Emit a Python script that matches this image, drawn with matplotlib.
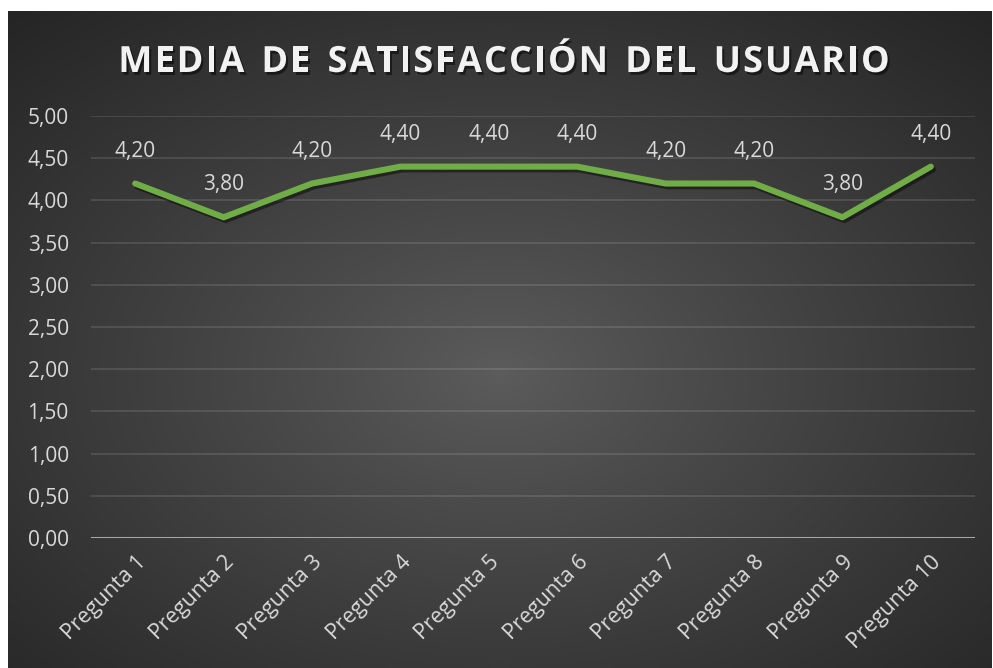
import numpy as np
import matplotlib
matplotlib.use("Agg")
import matplotlib.pyplot as plt
import matplotlib.patheffects as pe

categories = ["Pregunta 1", "Pregunta 2", "Pregunta 3", "Pregunta 4", "Pregunta 5",
              "Pregunta 6", "Pregunta 7", "Pregunta 8", "Pregunta 9", "Pregunta 10"]
values = [4.20, 3.80, 4.20, 4.40, 4.40, 4.40, 4.20, 4.20, 3.80, 4.40]
y_ticks = [0.0, 0.5, 1.0, 1.5, 2.0, 2.5, 3.0, 3.5, 4.0, 4.5, 5.0]
title = "MEDIA DE SATISFACCIÓN DEL USUARIO"

W, H = 993, 668
DPI = 100
FONT = "Open Sans"
TXT = "#d9d9d9"
GREEN = "#70ad47"


def fmt(v):
    return f"{v:.2f}".replace(".", ",")


fig = plt.figure(figsize=(W / DPI, H / DPI), dpi=DPI)
fig.patch.set_facecolor("white")

# Chart area with a radial gray gradient
bg = fig.add_axes([8 / W, 0, 984 / W, 657 / H])
bg.set_axis_off()
ny, nx = 330, 492
yy, xx = np.mgrid[0:ny, 0:nx]
dx = (xx / (nx - 1) - 0.5)
dy = (yy / (ny - 1) - 0.55)
r = np.sqrt(dx ** 2 + dy ** 2) / np.sqrt(0.5 ** 2 + 0.55 ** 2)
r = np.clip(r, 0, 1)
c_in, c_out = 0x5c / 255, 0x25 / 255
g = c_in + (c_out - c_in) * r ** 0.9
img = np.dstack([g, g, g])
bg.imshow(img, aspect="auto", extent=[0, 1, 0, 1], interpolation="bicubic")
bg.set_xlim(0, 1)
bg.set_ylim(0, 1)

# Plot area
ax = fig.add_axes([91 / W, 130 / H, 884 / W, 422 / H])
ax.set_facecolor("none")
for s in ax.spines.values():
    s.set_visible(False)

x = np.arange(len(categories))
ax.set_xlim(-0.5, len(categories) - 0.5)
ax.set_ylim(0, 5)
ax.set_yticks(y_ticks)
ax.set_yticklabels([fmt(v) for v in y_ticks], fontfamily=FONT, fontsize=15, color=TXT)
ax.tick_params(axis="y", length=0, pad=16)
for v in y_ticks[1:]:
    ax.axhline(v, color="white", alpha=0.13, lw=1.2, zorder=1)
ax.axhline(0, color="#a6a6a6", lw=2.2, zorder=2)

ax.set_xticks(x)
ax.set_xticklabels(categories, fontfamily=FONT, fontsize=15.5, color=TXT,
                   rotation=45, ha="right", rotation_mode="anchor")
ax.tick_params(axis="x", length=0, pad=10)

ax.plot(x, values, color=GREEN, lw=4.4, solid_capstyle="round", solid_joinstyle="round",
        zorder=3,
        path_effects=[pe.SimpleLineShadow(offset=(1.5, -2), shadow_color="black", alpha=0.45),
                      pe.Normal()])

for xi, v in zip(x, values):
    ax.annotate(fmt(v), (xi, v), xytext=(0, 22), textcoords="offset pixels",
                ha="center", va="bottom", fontfamily=FONT, fontsize=15, color=TXT,
                zorder=4)

# Title with letter spacing
fig.canvas.draw()
renderer = fig.canvas.get_renderer()
tprops = dict(fontfamily=FONT, fontsize=26, fontweight="bold", color="#f2f2f2")
shadow = [pe.withSimplePatchShadow(offset=(1.5, -2), shadow_rgbFace="black", alpha=0.5)]
widths = []
for ch in title:
    probe = fig.text(0, 0, ch if ch != " " else "n", **tprops)
    bb = probe.get_window_extent(renderer)
    widths.append(bb.width * (0.55 if ch == " " else 1.0))
    probe.remove()
spacing = 2.0
total = sum(widths) + spacing * (len(title) - 1)
x0 = 504 - total / 2
ty = H - 72
cur = x0
for ch, w in zip(title, widths):
    if ch != " ":
        fig.text(cur / W, ty / H, ch, ha="left", va="baseline",
                 path_effects=shadow, **tprops)
    cur += w + spacing

fig.savefig("out.png", dpi=DPI)
